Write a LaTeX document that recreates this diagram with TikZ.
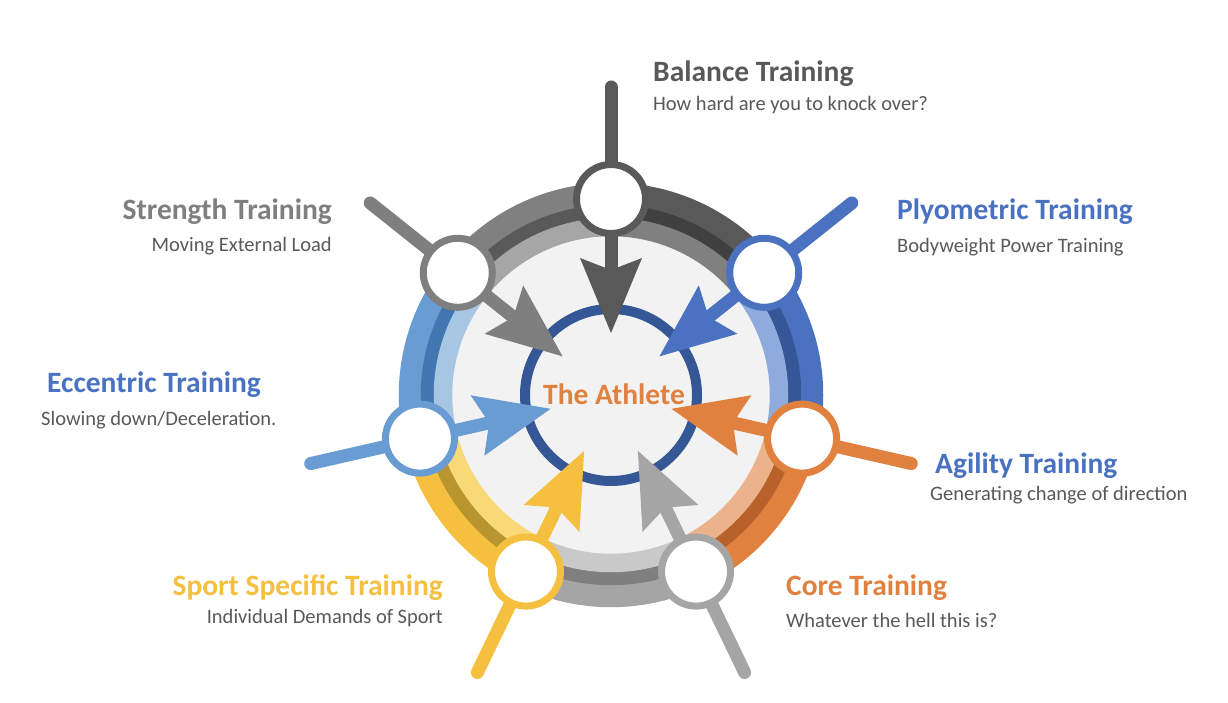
\documentclass[tikz,border=0pt]{standalone}
\usepackage{fontspec}
\setmainfont{Carlito}
\usetikzlibrary{arrows.meta}
\definecolor{cBal}{HTML}{595959}
\definecolor{cStr}{HTML}{7F7F7F}
\definecolor{cPly}{HTML}{4A72C0}
\definecolor{cAgi}{HTML}{E0813F}
\definecolor{cCor}{HTML}{A5A5A5}
\definecolor{cSpo}{HTML}{F5C040}
\definecolor{cEcc}{HTML}{699CD2}
\definecolor{cNavy}{HTML}{365796}
\definecolor{cFill}{HTML}{F2F2F2}
\definecolor{cText}{HTML}{595959}
% sector band colours: outer / middle / inner
\definecolor{bBalO}{HTML}{595959}\definecolor{bBalM}{HTML}{404040}\definecolor{bBalI}{HTML}{808080}
\definecolor{bPlyO}{HTML}{4A72C0}\definecolor{bPlyM}{HTML}{365796}\definecolor{bPlyI}{HTML}{8FAADC}
\definecolor{bAgiO}{HTML}{E0813F}\definecolor{bAgiM}{HTML}{B9612A}\definecolor{bAgiI}{HTML}{EBB38B}
\definecolor{bCorO}{HTML}{A5A5A5}\definecolor{bCorM}{HTML}{7F7F7F}\definecolor{bCorI}{HTML}{C9C9C9}
\definecolor{bSpoO}{HTML}{F5C040}\definecolor{bSpoM}{HTML}{B9952F}\definecolor{bSpoI}{HTML}{F8D877}
\definecolor{bEccO}{HTML}{699CD2}\definecolor{bEccM}{HTML}{4276B0}\definecolor{bEccI}{HTML}{A7C6E4}
\definecolor{bStrO}{HTML}{808080}\definecolor{bStrM}{HTML}{595959}\definecolor{bStrI}{HTML}{A6A6A6}
\newcommand\ringsector[4]{%
  \draw[line width=22.5pt,#2] (#1:201) arc[start angle=#1, end angle=#1-51.6, radius=201];
  \draw[line width=13.5pt,#3] (#1:183.5) arc[start angle=#1, end angle=#1-51.6, radius=183.5];
  \draw[line width=18.5pt,#4] (#1:168) arc[start angle=#1, end angle=#1-51.6, radius=168];
}
\begin{document}
\begin{tikzpicture}[x=1pt,y=1pt,
  spoke/.style={line width=13pt, line cap=round,
    -{Stealth[length=75pt,width=62pt,inset=12pt,line width=0pt]}},
  hub/.style={circle, draw, line width=7pt, fill=white, minimum size=69pt, inner sep=0pt},
  ttl/.style={font=\fontsize{29.5}{32}\selectfont\bfseries, inner sep=0pt},
  sub/.style={font=\fontsize{20.5}{24}\selectfont, text=cText, inner sep=0pt}]
\useasboundingbox (0,0) rectangle (1228,702);
\fill[white] (0,0) rectangle (1228,702);
\begin{scope}[shift={(611,307)}]
  \fill[cFill] (0,0) circle[radius=160];
  \ringsector{90}{bBalO}{bBalM}{bBalI}
  \ringsector{38.5714}{bPlyO}{bPlyM}{bPlyI}
  \ringsector{-12.8571}{bAgiO}{bAgiM}{bAgiI}
  \ringsector{-64.2857}{bCorO}{bCorM}{bCorI}
  \ringsector{-115.7143}{bSpoO}{bSpoM}{bSpoI}
  \ringsector{-167.1429}{bEccO}{bEccM}{bEccI}
  \ringsector{141.4286}{bStrO}{bStrM}{bStrI}
  \draw[cNavy, line width=10pt] (0,0) circle[radius=86];
  % spoke coordinates
  \foreach \n/\a in {bal/90, ply/38.5714, agi/-12.8571, cor/-64.2857, spo/-115.7143, ecc/-167.1429, str/141.4286}{
    \coordinate (o\n) at (\a:308);
    \coordinate (h\n) at (\a:196);
    \coordinate (t\n) at (\a:62);
  }
  \draw[spoke, cBal] (obal) -- (tbal);
  \draw[spoke, cPly] (oply) -- (tply);
  \draw[spoke, cAgi] (oagi) -- (tagi);
  \draw[spoke, cCor] (ocor) -- (tcor);
  \draw[spoke, cSpo] (ospo) -- (tspo);
  \draw[spoke, cEcc] (oecc) -- (tecc);
  \draw[spoke, cStr] (ostr) -- (tstr);
  \node[hub, draw=cBal] (nbal) at (hbal) {};
  \node[hub, draw=cPly] (nply) at (hply) {};
  \node[hub, draw=cAgi] (nagi) at (hagi) {};
  \node[hub, draw=cCor] (ncor) at (hcor) {};
  \node[hub, draw=cSpo] (nspo) at (hspo) {};
  \node[hub, draw=cEcc] (necc) at (hecc) {};
  \node[hub, draw=cStr] (nstr) at (hstr) {};
\end{scope}
\node[ttl, text=cAgi, anchor=base] (athlete) at (614,297.5) {The Athlete};
% labels
\node[ttl, text=cBal, anchor=base west] (balT) at (653,620.3) {Balance Training};
\node[sub, anchor=base west] (balS) at (653,591) {How hard are you to knock over?};
\node[ttl, text=cStr, anchor=base east] (strT) at (332,482) {Strength Training};
\node[sub, anchor=base east] (strS) at (332,450) {Moving External Load};
\node[ttl, text=cPly, anchor=base west] (plyT) at (897,482) {Plyometric Training};
\node[sub, anchor=base west] (plyS) at (897,449.5) {Bodyweight Power Training};
\node[ttl, text=cPly, anchor=base west] (eccT) at (47,309.5) {Eccentric Training};
\node[sub, anchor=base west] (eccS) at (41,276.5) {Slowing down/Deceleration.};
\node[ttl, text=cPly, anchor=base west] (agiT) at (935,228.5) {Agility Training};
\node[sub, anchor=base west] (agiS) at (930,202) {Generating change of direction};
\node[ttl, text=cSpo, anchor=base east] (spoT) at (443,107) {Sport Specific Training};
\node[sub, anchor=base east] (spoS) at (443,79) {Individual Demands of Sport};
\node[ttl, text=cAgi, anchor=base west] (corT) at (786,107) {Core Training};
\node[sub, anchor=base west] (corS) at (786,75) {Whatever the hell this is?};
\end{tikzpicture}
\end{document}
